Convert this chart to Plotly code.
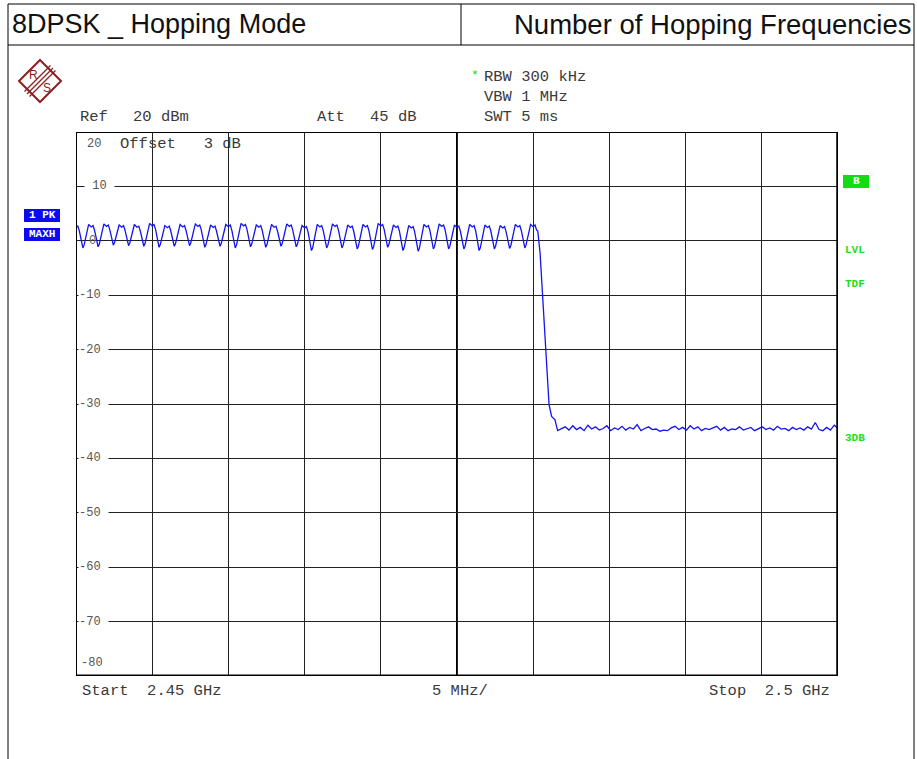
import plotly.graph_objects as go
import numpy as np

# ---------------- data ----------------
channels_mhz = list(range(2450, 2481))          # hopping channel centres (MHz)
peak_left = [2.9, 3.0, 3.1, 2.9, 3.0, 3.2, 2.8, 3.0, 3.1, 2.9, 3.0, 3.2, 2.9, 3.0, 3.1, 2.8,
             3.0, 3.1, 2.9, 3.0, 3.2, 2.9, 2.8, 3.0, 3.1, 2.9, 3.0, 2.9, 2.8, 3.0, 3.0]
peak_right = [2.7, 2.8, 2.9, 2.8, 2.7, 3.0, 2.7, 2.8, 2.9, 2.7, 2.9, 3.0, 2.8, 2.7, 2.9, 2.6,
              2.8, 2.9, 2.7, 2.8, 3.0, 2.7, 2.6, 2.8, 2.9, 2.7, 2.8, 2.7, 2.6, 2.8, 2.9]
dip_level = [-1.3, -1.1, -0.8, -0.9, -1.0, -1.2, -1.0, -0.9, -1.2, -1.0, -1.3, -1.1, -1.2, -1.0,
             -1.1, -1.8, -1.3, -1.3, -1.5, -1.6, -1.2, -1.8, -1.9, -1.5, -1.5, -1.5, -1.8, -1.5,
             -1.4, -1.3]
drop_mhz = [2480.30, 2480.45, 2480.62, 2480.77, 2480.88, 2481.04, 2481.21, 2481.43]
drop_dbm = [1.8, -2.2, -10.3, -17.6, -23.7, -30.1, -32.3, -32.9]
noise_start_mhz, noise_stop_mhz = 2481.6, 2500.0
noise_dbm = [-34.9, -34.6, -34.2, -34.8, -34.0, -34.7, -34.3, -34.9, -33.9, -34.6, -34.2, -34.8,
             -34.5, -34.0, -34.9, -34.4, -34.7, -34.1, -34.8, -34.3, -34.6, -33.8, -34.9, -34.5,
             -34.2, -34.7, -34.6, -35.0, -34.8, -34.9, -34.4, -34.1, -34.7, -34.3, -34.8, -34.0,
             -34.6, -34.2, -34.9, -34.5, -34.7, -34.4, -34.1, -34.8, -34.3, -34.9, -34.6, -34.7,
             -34.2, -34.8, -34.5, -34.3, -34.9, -34.6, -34.2, -34.7, -34.4, -34.8, -34.1, -34.6,
             -34.5, -34.9, -34.3, -34.7, -34.4, -34.8, -34.2, -34.6, -33.4, -34.7, -34.9, -34.3,
             -34.8, -33.9, -34.5]
y_tick_values = [10, 0, -10, -20, -30, -40, -50, -60, -70, -80]

# ---------------- build trace ----------------
xs, ys = [], []
for i, c in enumerate(channels_mhz):
    pl, pr = peak_left[i], peak_right[i]
    pts = [(c - 0.27, pl - 0.9), (c - 0.17, pl), (c, (pl + pr) / 2 - 0.35),
           (c + 0.12, pr), (c + 0.22, pr - 0.9)]
    for x, y in pts:
        if x >= channels_mhz[0]:
            xs.append(x); ys.append(y)
    if i < len(dip_level):
        d = dip_level[i]
        xs += [c + 0.38, c + 0.45, c + 0.53]
        ys += [d + 0.5, d, d + 0.5]
xs += drop_mhz; ys += drop_dbm
xs += list(np.linspace(noise_start_mhz, noise_stop_mhz, len(noise_dbm)))
ys += noise_dbm

W, H = 917, 759
L, R, T, B = 76, 838, 132, 676
def px(x): return (x - L) / (R - L)
def py(y): return (B - y) / (B - T)

fig = go.Figure()
fig.add_trace(go.Scatter(x=xs, y=ys, mode="lines",
                         line=dict(color="#1414F0", width=1.3), hoverinfo="skip"))

shapes = []
def pline(x0, y0, x1, y1, w=1, c="black"):
    shapes.append(dict(type="line", xref="paper", yref="paper",
                       x0=px(x0), y0=py(y0), x1=px(x1), y1=py(y1),
                       line=dict(color=c, width=w), layer="above"))
# outer frame
pline(8, 4, 8, 759); pline(914, 4, 914, 759)
pline(8, 4, 914, 4); pline(8, 45, 914, 45); pline(461, 4, 461, 45)
# plot border & centre line (data coords)
shapes.append(dict(type="line", xref="x", yref="y", x0=2475, x1=2475, y0=-80, y1=20,
                   line=dict(color="black", width=2), layer="below"))
shapes.append(dict(type="rect", xref="x", yref="y", x0=2450, x1=2500, y0=-80, y1=20,
                   line=dict(color="black", width=2), layer="above"))
shapes.append(dict(type="line", xref="x", yref="y", x0=2500, x1=2500, y0=-80, y1=20,
                   line=dict(color="black", width=3.5), layer="above"))
shapes.append(dict(type="line", xref="x", yref="y", x0=2450, x1=2500, y0=-80, y1=-80,
                   line=dict(color="black", width=3), layer="above"))
# boxes
def prect(x0, y0, x1, y1, c):
    shapes.append(dict(type="rect", xref="paper", yref="paper",
                       x0=px(x0), y0=py(y0), x1=px(x1), y1=py(y1),
                       line=dict(width=0), fillcolor=c, layer="above"))
prect(24, 209, 60, 222, "#0A0AF5")
prect(24, 228, 60, 241, "#0A0AF5")
prect(843, 175, 869, 188, "#11DD11")
# R&S logo
lc = "#8E1F1F"
logo = "M %f,%f L %f,%f L %f,%f L %f,%f Z" % (px(40), py(60), px(61), py(81), px(40), py(102), px(19), py(81))
shapes.append(dict(type="path", xref="paper", yref="paper", path=logo,
                   line=dict(color=lc, width=2), layer="above"))
for d in (-2.5, 0, 2.5):
    pline(53 + d, 68 + d, 27 + d, 94 + d, 1.3, lc)

ann = []
def txt(x, y, s, size=15.5, color="#3A3A3A", anchor="left", family="Liberation Mono",
        bg=None, yref="paper"):
    a = dict(x=px(x), y=py(y) if yref == "paper" else y, xref="paper", yref=yref,
             text=s, showarrow=False, xanchor=anchor, yanchor="middle",
             font=dict(family=family, size=size, color=color))
    if bg:
        a["bgcolor"] = bg; a["borderpad"] = 0
    ann.append(a)

# header
txt(10, 24, "8DPSK _ Hopping Mode", 27, "#111", family="Liberation Sans")
txt(913, 24, "Number of Hopping Frequencies", 27.5, "#111", anchor="right", family="Liberation Sans")
# logo letters
txt(33, 75, "R", 12, lc, anchor="center", family="Liberation Sans")
txt(47, 88, "S", 12, lc, anchor="center", family="Liberation Sans")
# settings
txt(469, 76, "*", 13, "#11DD11")
txt(482, 77, "RBW 300 kHz")
txt(482, 97, "VBW 1 MHz")
txt(482, 117, "SWT 5 ms")
txt(78, 117, "Ref")
txt(131, 117, "20 dBm")
txt(315, 117, "Att")
txt(368, 117, "45 dB")
txt(86, 144, "20", 12, "#555", bg="white")
txt(118, 144, "Offset   3 dB")
# y labels
for v in y_tick_values:
    if v == 0:
        txt(87, 0, "0", 12, "#666", yref="y")
    elif v == -80:
        txt(79, -77.6, "-80", 12, "#555", yref="y")
    elif v > 0:
        txt(84, v, " 10 ", 12, "#555", bg="white", yref="y")
    else:
        txt(78, v, "%d " % v, 12, "#555", bg="white", yref="y")
# side labels
txt(42, 215, "<b>1 PK</b>", 11, "white", anchor="center")
txt(42, 234, "<b>MAXH</b>", 11, "white", anchor="center")
txt(856, 181, "<b>B</b>", 11, "white", anchor="center")
for y, s in [(250, "LVL"), (284, "TDF"), (438, "3DB")]:
    txt(843, y, "<b>%s</b>" % s, 11, "#22DD22")
# bottom
txt(80, 691, "Start  2.45 GHz")
txt(430, 691, "5 MHz/")
txt(832, 691, "Stop  2.5 GHz", anchor="right")

fig.update_layout(
    width=W, height=H, autosize=False,
    margin=dict(l=L, r=W - R, t=T, b=H - B, pad=0),
    paper_bgcolor="white", plot_bgcolor="white", showlegend=False,
    xaxis=dict(range=[2450, 2500], tick0=2450, dtick=5, showgrid=True, gridcolor="#222",
               gridwidth=1, zeroline=False, showticklabels=False, ticks="", showline=False,
               fixedrange=True),
    yaxis=dict(range=[-80, 20], tick0=-80, dtick=10, showgrid=True, gridcolor="#222",
               gridwidth=1, zeroline=False, showticklabels=False, ticks="", showline=False,
               fixedrange=True),
    shapes=shapes, annotations=ann,
)
fig.write_html("out.html", config={"displayModeBar": False},
               post_script="document.body.style.margin='0px';document.body.style.overflow='hidden';")
